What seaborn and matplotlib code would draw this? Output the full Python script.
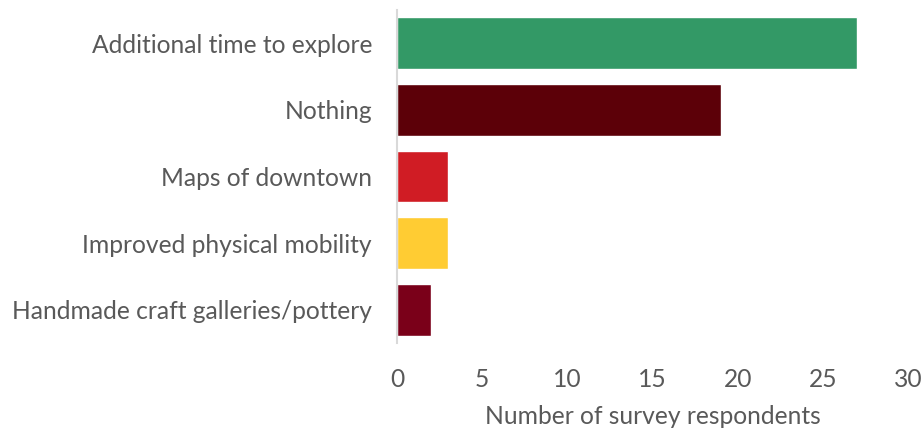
import matplotlib
matplotlib.use("Agg")
import matplotlib.pyplot as plt
import seaborn as sns
import pandas as pd

categories = ["Additional time to explore", "Nothing", "Maps of downtown",
              "Improved physical mobility", "Handmade craft galleries/pottery"]
values = [27, 19, 3, 3, 2]
colors = ["#339966", "#5c0008", "#d01c24", "#ffcc33", "#7a0019"]
xticks = [0, 5, 10, 15, 20, 25, 30]
xlabel = "Number of survey respondents"

sns.set_theme(style="white")
plt.rcParams['font.family'] = ['Lato', 'DejaVu Sans']

df = pd.DataFrame({"cat": categories, "val": values})

fig = plt.figure(figsize=(9.24, 4.34), dpi=100)
ax = fig.add_axes([397/924, 1 - 343/434, 511/924, 333/434])
sns.barplot(data=df, y="cat", x="val", hue="cat", palette=colors,
            order=categories, hue_order=categories, width=0.78,
            saturation=1, legend=False, ax=ax)

ax.set_xlim(0, 30)
ax.set_xticks(xticks)
ax.set_xticklabels([str(t) for t in xticks])
ax.set_ylabel("")
ax.set_xlabel(xlabel, fontsize=17.7, color="#595959", labelpad=10)
ax.tick_params(axis="x", length=0, labelsize=17.7, labelcolor="#595959", pad=18)
ax.tick_params(axis="y", length=0, labelsize=17.7, labelcolor="#595959", pad=18)
for s in ["top", "right", "bottom"]:
    ax.spines[s].set_visible(False)
ax.spines["left"].set_color("#d9d9d9")
ax.spines["left"].set_linewidth(1.5)
ax.grid(False)

fig.savefig("out.png", dpi=100)
